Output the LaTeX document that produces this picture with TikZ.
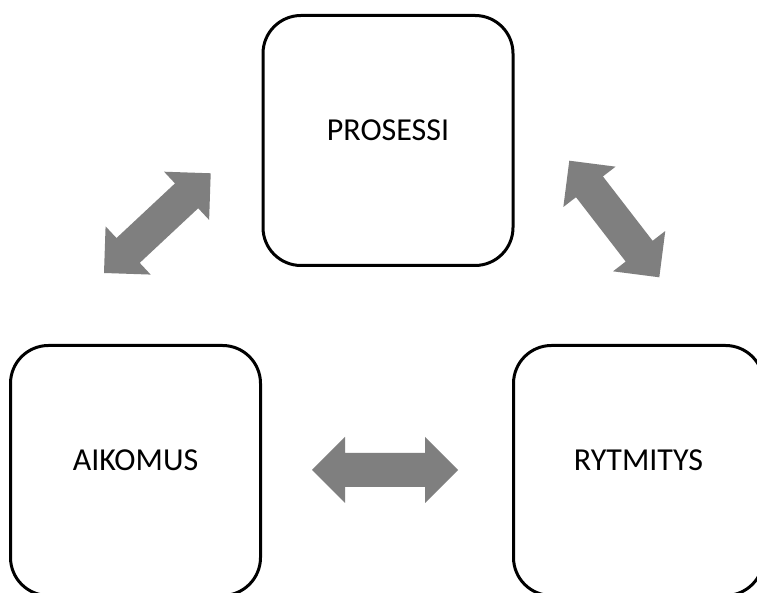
\documentclass[tikz,border=0pt]{standalone}
\usepackage{fontspec}
\setmainfont{Carlito}
\usetikzlibrary{calc}

\definecolor{arrowgray}{RGB}{127,127,127}

\tikzset{
  stage/.style={draw=black, line width=3pt, rounded corners=38pt,
    minimum width=250pt, minimum height=250pt, inner sep=0pt,
    font=\fontsize{32}{38}\selectfont, text height=20.6pt, text depth=21pt},
  arrowfill/.style={fill=arrowgray}
}

% Two-headed block arrow between two named coordinates:
% heads 33pt long and 66pt wide, shaft 34pt wide.
\newcommand{\blockarrow}[2]{%
  \fill[arrowfill] (#1)
    -- ($(#1)!33pt!(#2)!33pt!90:(#2)$)
    -- ($(#1)!33pt!(#2)!17pt!90:(#2)$)
    -- ($(#2)!33pt!(#1)!17pt!-90:(#1)$)
    -- ($(#2)!33pt!(#1)!33pt!-90:(#1)$)
    -- (#2)
    -- ($(#2)!33pt!(#1)!33pt!90:(#1)$)
    -- ($(#2)!33pt!(#1)!17pt!90:(#1)$)
    -- ($(#1)!33pt!(#2)!17pt!-90:(#2)$)
    -- ($(#1)!33pt!(#2)!33pt!-90:(#2)$)
    -- cycle;}

\begin{document}
\begin{tikzpicture}[x=1pt, y=1pt]
  \useasboundingbox (0,0) rectangle (757,593);
  \clip (0,0) rectangle (757,593);
  \fill[white] (0,0) rectangle (757,593);

  % the three stages
  \node[stage] (prosessi) at (388,452.5) {PROSESSI};
  \node[stage] (aikomus)  at (135.5,122.5) {AIKOMUS};
  \node[stage] (rytmitys) at (638.5,122.5) {RYTMITYS};

  % ends of the two-headed arrows
  \coordinate (ap) at (104,320);
  \coordinate (pa) at (210.7,419.7);
  \coordinate (pr) at (569.3,432.3);
  \coordinate (rp) at (659.3,315.7);
  \coordinate (ar) at (312,123);
  \coordinate (ra) at (458,123);

  \blockarrow{ap}{pa}
  \blockarrow{pr}{rp}
  \blockarrow{ar}{ra}
\end{tikzpicture}
\end{document}
